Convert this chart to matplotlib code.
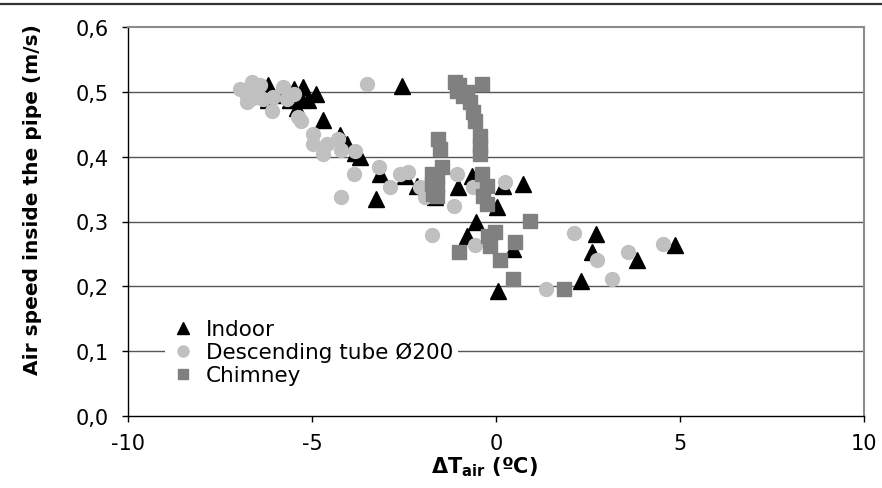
import matplotlib
matplotlib.use("Agg")
import matplotlib.pyplot as plt
from matplotlib.lines import Line2D
from matplotlib.ticker import FuncFormatter

plt.rcParams['font.family'] = ['DejaVu Sans']
plt.rcParams['mathtext.fontset'] = 'dejavusans'

indoor_x = [-6.2, -6.2, -5.6, -5.5, -5.24, -5.1, -4.9, -5.4, -5.9, -5.3, -4.7, -4.24, -4.05, -3.83,
            -3.7, -3.15, -3.26, -2.55, -2.47, -2.15, -1.66, -1.03, -0.65, 0.03, 0.19, 0.73,
            -0.54, -0.79, 0.46, 0.05, 2.72, 2.6, 3.83, 2.31, 4.86]
indoor_y = [0.51, 0.487, 0.487, 0.505, 0.508, 0.487, 0.497, 0.475, 0.495, 0.49, 0.456, 0.433, 0.42, 0.405,
            0.40, 0.373, 0.335, 0.509, 0.37, 0.355, 0.338, 0.353, 0.37, 0.322, 0.355, 0.358,
            0.30, 0.278, 0.258, 0.193, 0.281, 0.253, 0.24, 0.208, 0.263]

desc_x = [-6.96, -6.63, -6.77, -6.5, -6.77, -6.33, -6.06, -5.8, -5.68, -5.5, -6.09, -5.38, -6.4, -6.6,
          -5.3, -4.97, -4.97, -4.7, -4.6, -4.3, -4.2, -3.83, -3.86, -4.2, -3.5, -3.18, -2.88, -2.6,
          -2.39, -2.07, -1.93, -1.74, -1.06, -1.14, -0.63, -0.35, 0.24, -0.57, 2.12, 2.74, 3.59,
          4.54, 3.15, 1.36]
desc_y = [0.505, 0.515, 0.494, 0.50, 0.485, 0.489, 0.492, 0.508, 0.489, 0.497, 0.471, 0.461, 0.51, 0.49,
          0.455, 0.435, 0.42, 0.404, 0.42, 0.427, 0.41, 0.409, 0.373, 0.338, 0.512, 0.384, 0.353, 0.373,
          0.376, 0.353, 0.338, 0.279, 0.373, 0.324, 0.353, 0.355, 0.361, 0.264, 0.282, 0.241, 0.253,
          0.266, 0.211, 0.196]

chim_x = [-1.11, -1.06, -0.38, -0.9, -0.71, -0.63, -0.57, -0.43, -0.43, -0.43, -1.58, -1.52, -1.47,
          -1.6, -1.6, -1.6, -1.74, -1.74, -1.71, -0.38, -0.24, -0.35, -0.24, 0.92, -0.03, -0.22,
          -0.16, 0.52, -1.0, 0.1, 0.46, 1.85, -1.0, -0.8]
chim_y = [0.515, 0.502, 0.512, 0.494, 0.484, 0.469, 0.455, 0.432, 0.417, 0.404, 0.427, 0.412, 0.384,
          0.369, 0.355, 0.34, 0.373, 0.358, 0.342, 0.373, 0.355, 0.34, 0.327, 0.301, 0.284, 0.278,
          0.262, 0.268, 0.253, 0.241, 0.211, 0.196, 0.51, 0.50]

x_ticks = [-10, -5, 0, 5, 10]
y_ticks = [0.0, 0.1, 0.2, 0.3, 0.4, 0.5, 0.6]

fig = plt.figure(figsize=(8.82, 4.89), dpi=100)
ax = fig.add_axes([128/882, 72/489, 736/882, 389/489])

for yv in y_ticks[1:-1]:
    ax.axhline(yv, color='#555555', lw=1.0, zorder=1)

ax.plot(indoor_x, indoor_y, '^', color='black', ms=11, mec='black', ls='none', label='Indoor', zorder=3)
ax.plot(desc_x, desc_y, 'o', color='#C0C0C0', ms=10, mec='#C0C0C0', ls='none',
        label='Descending tube Ø200', zorder=4)
ax.plot(chim_x, chim_y, 's', color='#808080', ms=9.5, mec='#808080', ls='none', label='Chimney', zorder=5)

ax.set_xlim(-10, 10)
ax.set_ylim(0, 0.6)
ax.set_xticks(x_ticks)
ax.set_yticks(y_ticks)
ax.yaxis.set_major_formatter(FuncFormatter(lambda v, p: f"{v:.1f}".replace('.', ',')))
ax.xaxis.set_major_formatter(FuncFormatter(lambda v, p: f"{v:g}"))
ax.tick_params(axis='both', labelsize=15, length=4, width=1, color='black', direction='out')
ax.tick_params(axis='y', pad=10)
ax.tick_params(axis='x', pad=8)

for s in ['top', 'right']:
    ax.spines[s].set_color('#8c8c8c')
    ax.spines[s].set_linewidth(1.5)
for s in ['left', 'bottom']:
    ax.spines[s].set_color('black')
    ax.spines[s].set_linewidth(1.0)

ax.set_ylabel('Air speed inside the pipe (m/s)', fontsize=14.5, fontweight='bold')
ax.yaxis.set_label_coords(-0.117, 0.558)
ax.set_xlabel(r'$\mathbf{\Delta T_{air}}$ (ºC)', fontsize=15, fontweight='bold')
ax.xaxis.set_label_coords(0.485, -0.098)

leg = ax.legend(loc='upper left', bbox_to_anchor=(0.05, 0.262), frameon=True, fontsize=15.5,
                handletextpad=0.45, borderpad=0.25, labelspacing=0.12, handlelength=1.2,
                markerscale=0.8, borderaxespad=0)
leg.get_frame().set_facecolor('white')
leg.get_frame().set_edgecolor('none')
leg.get_frame().set_alpha(1)
leg.set_zorder(6)

fig.add_artist(Line2D([0, 1], [1 - 5/489, 1 - 5/489], color='#333333', lw=1.6, transform=fig.transFigure))

fig.savefig('out.png', dpi=100, facecolor='white')
